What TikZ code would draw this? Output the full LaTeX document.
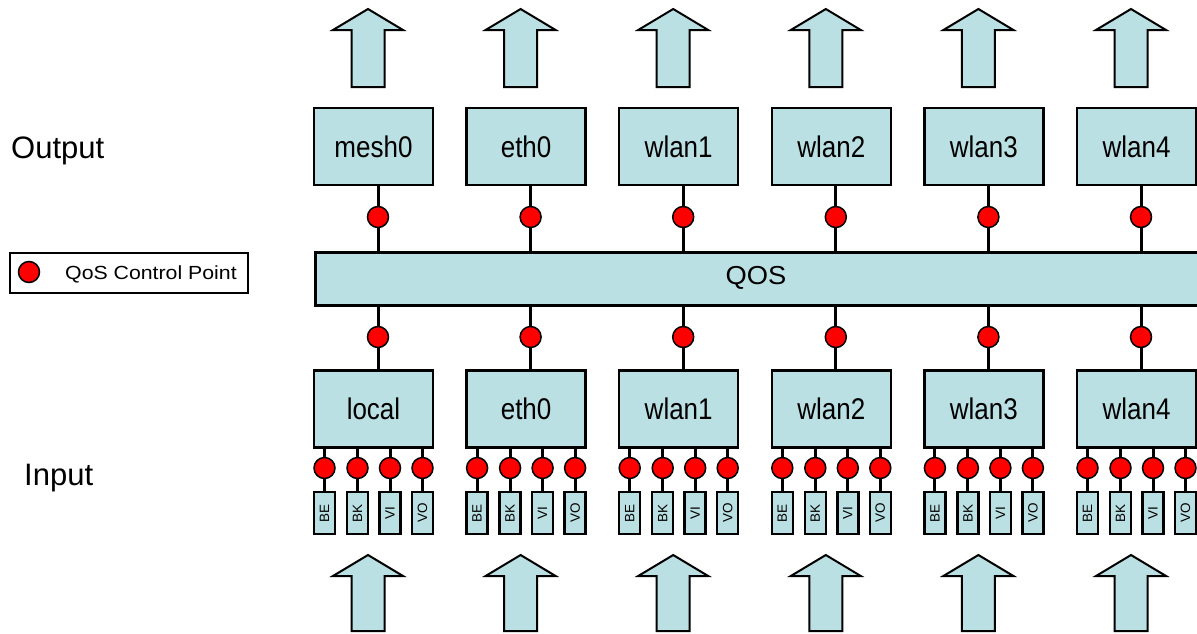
\documentclass[tikz,border=0pt]{standalone}
\usepackage{fontspec}
\setmainfont{Liberation Sans}
\definecolor{boxfill}{RGB}{187,224,227}
\definecolor{qred}{RGB}{255,0,0}
\begin{document}
\begin{tikzpicture}[x=1pt,y=-1pt,
  ifbox/.style={draw=black,line width=2.5pt,fill=boxfill,minimum width=119pt,minimum height=77pt,inner sep=0pt,font=\fontsize{26}{26}\selectfont},
  qbox/.style={draw=black,line width=2.5pt,fill=boxfill,inner sep=0pt,minimum width=920pt,minimum height=53pt,anchor=north west},
  qdot/.style={circle,draw=black,line width=1.5pt,fill=qred,minimum size=21pt,inner sep=0pt},
  acbox/.style={draw=black,line width=2.5pt,fill=boxfill,minimum width=21pt,minimum height=42pt,inner sep=0pt,font=\fontsize{13.5}{13.5}\selectfont},
  wire/.style={line width=3pt},
  bigarrow/.style={draw=black,line width=2pt,fill=boxfill,line join=miter},
  sidelabel/.style={anchor=west,inner sep=0pt,font=\fontsize{31}{31}\selectfont},
]
\useasboundingbox (0,0) rectangle (1197,633);
\clip (0,0) rectangle (1197,633);
% side labels
\node[sidelabel] (outlabel) at (11,151) {Output};
\node[sidelabel] (inlabel) at (24,478) {Input};
% legend
\node[draw=black,line width=2pt,minimum width=238pt,minimum height=40pt,anchor=north west,inner sep=0pt] (legend) at (9,252) {};
\node[qdot] (legdot) at (29,272) {};
\node[anchor=west,inner sep=0pt,font=\fontsize{19}{19}\selectfont] (legtext) at (65,274) {\scalebox{1.12}[1]{QoS Control Point}};
% QOS bar
\node[qbox] (qos) at (314,251) {};
\node[inner sep=0pt,font=\fontsize{26}{26}\selectfont] (qostext) at (756,278) {\scalebox{1.05}[1]{QOS}};
% columns
\foreach \i/\o/\n in {0/mesh0/local,1/eth0/eth0,2/wlan1/wlan1,3/wlan2/wlan2,4/wlan3/wlan3,5/wlan4/wlan4}{
  \pgfmathsetmacro\lx{313+152.6*\i}
  % top arrow
  \draw[bigarrow] (\lx+55,9) -- (\lx+90,30) -- (\lx+71.5,30) -- (\lx+71.5,87) -- (\lx+38.5,87) -- (\lx+38.5,30) -- (\lx+20,30) -- cycle;
  % bottom arrow
  \draw[bigarrow] (\lx+55,555) -- (\lx+90,576) -- (\lx+71.5,576) -- (\lx+71.5,631) -- (\lx+38.5,631) -- (\lx+38.5,576) -- (\lx+20,576) -- cycle;
  % output box
  \node[ifbox] (out\i) at (\lx+60.5,146.5) {\scalebox{1}[1.15]{\o}};
  \node[qdot] (od\i) at (\lx+65,217) {};
  \draw[wire] (od\i.north) -- (od\i.north |- out\i.south);
  \draw[wire] (od\i.south) -- (od\i.south |- qos.north);
  % input box
  \node[ifbox] (in\i) at (\lx+60.5,409) {\scalebox{1}[1.15]{\n}};
  \node[qdot] (id\i) at (\lx+65,337) {};
  \draw[wire] (id\i.north) -- (id\i.north |- qos.south);
  \draw[wire] (id\i.south) -- (id\i.south |- in\i.north);
  % access categories
  \foreach \j/\dx/\ac in {0/11.5/BE,1/44.5/BK,2/77/VI,3/109.5/VO}{
    \node[qdot] (cd\i\j) at (\lx+\dx,468) {};
    \node[acbox] (ac\i\j) at (\lx+\dx,513) {\rotatebox{90}{\ac}};
    \draw[wire] (cd\i\j.north) -- (cd\i\j.north |- in\i.south);
    \draw[wire] (cd\i\j.south) -- (cd\i\j.south |- ac\i\j.north);
  }
}
\end{tikzpicture}
\end{document}
